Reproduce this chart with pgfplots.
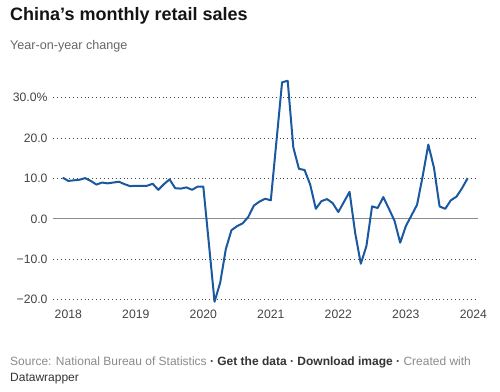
\documentclass[border=0pt]{standalone}
\usepackage{fontspec}
\setmainfont{Liberation Sans}
\usepackage{pgfplots}
\pgfplotsset{compat=1.18}
\definecolor{lineblue}{HTML}{1A58A0}
\definecolor{tickgray}{HTML}{444444}
\definecolor{subgray}{HTML}{666666}
\definecolor{srcgray}{HTML}{8A8A8A}
\definecolor{darktxt}{HTML}{333333}
\definecolor{gridc}{HTML}{444444}
\definecolor{zeroc}{HTML}{8C8C8C}
\begin{document}
\begin{tikzpicture}[x=1pt,y=1pt]
\useasboundingbox (0,0) rectangle (500,391);
\node[anchor=base west, inner sep=0pt, font=\fontsize{18}{21}\selectfont\bfseries, text=black!92] at (10,370) {China’s monthly retail sales};
\node[anchor=base west, inner sep=0pt, font=\fontsize{12.6}{15}\selectfont, text=subgray] at (10,341) {Year-on-year change};
\begin{axis}[
  at={(53.3pt,91.3pt)}, anchor=south west,
  scale only axis, width=424.4pt, height=202pt,
  xmin=-2.667, xmax=72.78, ymin=-20, ymax=30,
  clip=false,
  axis line style={draw=none},
  major tick length=0pt,
  xtick={0,12,24,36,48,60,72},
  xticklabels={2018,2019,2020,2021,2022,2023,2024},
  ytick={-20,-10,10,20,30},
  yticklabels={−20.0,−10.0,10.0,20.0,30.0\%},
  extra y ticks={0},
  extra y tick labels={0.0},
  ymajorgrids,
  grid style={draw=gridc, line width=0.9pt, dash pattern=on 0.9pt off 3pt},
  extra y tick style={grid style={draw=zeroc, line width=1pt, solid}},
  y tick label style={anchor=east, inner sep=0pt, xshift=-5.6pt, font=\fontsize{12.2}{14}\selectfont, text=tickgray},
  x tick label style={anchor=north, inner sep=0pt, yshift=-10.3pt, font=\fontsize{12.2}{14}\selectfont, text=tickgray},
]
\addplot[lineblue, line width=2pt, line join=round, mark=none] coordinates {
(-1,10.2) (0,9.4) (2,9.7) (3,10.1) (4,9.4) (5,8.5) (6,9.0) (7,8.8) (8,9.0) (9,9.2) (10,8.6) (11,8.1) (12,8.2)
(14,8.2) (15,8.7) (16,7.2) (17,8.6) (18,9.8) (19,7.6) (20,7.5) (21,7.8) (22,7.2) (23,8.0) (24,8.0)
(26,-20.5) (27,-15.8) (28,-7.5) (29,-2.8) (30,-1.8) (31,-1.1) (32,0.5) (33,3.3) (34,4.3) (35,5.0) (36,4.6)
(38,33.8) (39,34.2) (40,17.7) (41,12.4) (42,12.1) (43,8.5) (44,2.5) (45,4.4) (46,4.9) (47,3.9) (48,1.7)
(50,6.7) (51,-3.5) (52,-11.1) (53,-6.7) (54,3.1) (55,2.7) (56,5.4) (57,2.5) (58,-0.5) (59,-5.9) (60,-1.8)
(62,3.5) (63,10.6) (64,18.4) (65,12.7) (66,3.1) (67,2.5) (68,4.6) (69,5.5) (70,7.6) (71,10.1)
};
\end{axis}
\node[anchor=base west, inner sep=0pt, font=\fontsize{12}{16}\selectfont] at (10,25.5) {\textcolor{srcgray}{Source: National Bureau of Statistics} \textcolor{darktxt}{\textbf{·} \textbf{Get the data} \textbf{·} \textbf{Download image} \textbf{·}} \textcolor{srcgray}{Created with}};
\node[anchor=base west, inner sep=0pt, font=\fontsize{12}{16}\selectfont, text=darktxt] at (10,9.5) {Datawrapper};
\end{tikzpicture}
\end{document}
